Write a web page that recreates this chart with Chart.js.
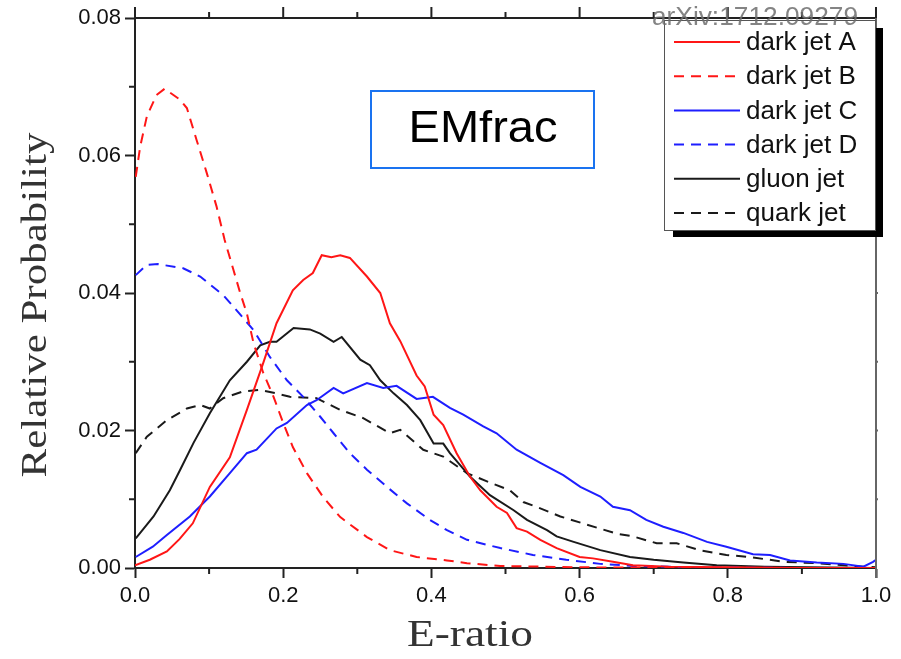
<!DOCTYPE html>
<html>
<head>
<meta charset="utf-8">
<script src="https://cdn.jsdelivr.net/npm/chart.js@4"></script>
<style>
  html, body { margin: 0; padding: 0; background: #fff; }
  #wrap { width: 901px; height: 659px; }
</style>
</head>
<body>
<div id="wrap"><canvas id="chart" width="901" height="659"></canvas></div>
<script>
// values (E-ratio, relative probability)
const darkAX = [0, 0.02, 0.043, 0.06, 0.078, 0.101, 0.128, 0.151, 0.173, 0.191, 0.213, 0.227, 0.24, 0.252, 0.265, 0.277, 0.29, 0.313, 0.331, 0.344, 0.358, 0.38, 0.391, 0.403, 0.416, 0.434, 0.452, 0.466, 0.488, 0.502, 0.515, 0.529, 0.547, 0.569, 0.6, 0.618, 0.645, 0.672, 0.72, 0.8, 0.9, 1.0];
const darkAY = [0.0004, 0.0012, 0.0024, 0.0042, 0.0065, 0.0118, 0.0161, 0.023, 0.0298, 0.0356, 0.0404, 0.0419, 0.0429, 0.0455, 0.0452, 0.0455, 0.0451, 0.0424, 0.040, 0.0356, 0.033, 0.028, 0.0264, 0.0223, 0.0208, 0.0167, 0.0133, 0.0113, 0.0089, 0.008, 0.0058, 0.0053, 0.0041, 0.0029, 0.0016, 0.0014, 0.0009, 0.0004, 0.0002, 0.0001, 0, 0];

const darkBX = [0.001, 0.007, 0.016, 0.029, 0.04, 0.061, 0.07, 0.083, 0.097, 0.11, 0.121, 0.133, 0.142, 0.151, 0.16, 0.173, 0.187, 0.2, 0.213, 0.232, 0.254, 0.277, 0.313, 0.344, 0.38, 0.421, 0.448, 0.493, 0.6, 0.8, 1.0];
const darkBY = [0.0569, 0.0613, 0.0657, 0.0688, 0.0697, 0.0681, 0.0669, 0.0623, 0.0574, 0.0526, 0.0477, 0.0433, 0.040, 0.037, 0.0327, 0.0284, 0.0249, 0.0211, 0.0176, 0.0138, 0.0103, 0.0074, 0.0045, 0.0026, 0.0016, 0.0011, 0.0007, 0.0003, 0.0001, 0, 0];

const darkCX = [0.001, 0.024, 0.043, 0.074, 0.101, 0.128, 0.151, 0.164, 0.191, 0.205, 0.232, 0.245, 0.268, 0.281, 0.313, 0.335, 0.353, 0.38, 0.402, 0.425, 0.443, 0.47, 0.488, 0.515, 0.547, 0.578, 0.601, 0.628, 0.645, 0.668, 0.69, 0.713, 0.74, 0.772, 0.798, 0.834, 0.857, 0.884, 0.92, 0.956, 0.983, 0.996, 1.0];
const darkCY = [0.0016, 0.0031, 0.0048, 0.0075, 0.0104, 0.0138, 0.0167, 0.0172, 0.0203, 0.0211, 0.0237, 0.0244, 0.0262, 0.0254, 0.0269, 0.0262, 0.0265, 0.0246, 0.0249, 0.0233, 0.0223, 0.0206, 0.0196, 0.0172, 0.0153, 0.0135, 0.0118, 0.0104, 0.0089, 0.0084, 0.007, 0.006, 0.0051, 0.0038, 0.0031, 0.002, 0.0019, 0.0011, 0.0008, 0.0006, 0.0002, 0.0009, 0.0012];

const darkDX = [0.001, 0.016, 0.031, 0.065, 0.088, 0.105, 0.119, 0.133, 0.16, 0.182, 0.205, 0.227, 0.25, 0.268, 0.29, 0.313, 0.34, 0.367, 0.398, 0.421, 0.448, 0.493, 0.537, 0.582, 0.628, 0.672, 0.75, 0.9, 1.0];
const darkDY = [0.0426, 0.0441, 0.0442, 0.0436, 0.0424, 0.0409, 0.0397, 0.038, 0.0346, 0.0307, 0.0273, 0.0249, 0.022, 0.0196, 0.0167, 0.0143, 0.0118, 0.0094, 0.007, 0.0055, 0.0041, 0.0029, 0.0019, 0.0012, 0.0006, 0.0003, 0.0001, 0, 0];

const gluonX = [0.001, 0.025, 0.047, 0.061, 0.079, 0.101, 0.128, 0.151, 0.169, 0.182, 0.191, 0.214, 0.236, 0.25, 0.268, 0.279, 0.304, 0.317, 0.331, 0.349, 0.367, 0.385, 0.403, 0.416, 0.425, 0.452, 0.479, 0.511, 0.529, 0.556, 0.569, 0.592, 0.628, 0.668, 0.7, 0.74, 0.785, 0.85, 1.0];
const gluonY = [0.0043, 0.0075, 0.0113, 0.0143, 0.0182, 0.0225, 0.0273, 0.030, 0.0324, 0.0329, 0.0329, 0.0349, 0.0347, 0.0341, 0.0329, 0.0336, 0.0303, 0.0295, 0.0273, 0.0254, 0.0237, 0.0215, 0.0181, 0.0181, 0.0167, 0.0133, 0.0106, 0.0084, 0.007, 0.0055, 0.0046, 0.0038, 0.0026, 0.0016, 0.0012, 0.0008, 0.0004, 0.0002, 0];

const quarkX = [0.001, 0.016, 0.043, 0.07, 0.088, 0.101, 0.119, 0.146, 0.169, 0.191, 0.209, 0.245, 0.277, 0.308, 0.344, 0.358, 0.389, 0.416, 0.448, 0.475, 0.506, 0.524, 0.542, 0.574, 0.61, 0.65, 0.672, 0.704, 0.731, 0.762, 0.798, 0.83, 0.875, 0.92, 0.983, 1.0];
const quarkY = [0.0167, 0.0191, 0.0215, 0.0232, 0.0237, 0.0232, 0.0247, 0.0257, 0.0259, 0.0254, 0.0249, 0.0247, 0.023, 0.0218, 0.0196, 0.0201, 0.0172, 0.0162, 0.0138, 0.0126, 0.0113, 0.0096, 0.0089, 0.0075, 0.0063, 0.005, 0.0046, 0.0036, 0.0036, 0.0026, 0.0019, 0.0016, 0.0009, 0.0007, 0.0002, 0.0001];

const seriesNames = ['dark jet A', 'dark jet B', 'dark jet C', 'dark jet D', 'gluon jet', 'quark jet'];
const xTicks = [0, 0.2, 0.4, 0.6, 0.8, 1.0];
const yTicks = [0, 0.02, 0.04, 0.06, 0.08];

const RED = 'rgb(255,22,22)';
const BLUE = 'rgb(30,30,255)';
const BLACK = '#1a1a1a';
const DASH = [10, 7];

const pts = (xs, ys) => xs.map((x, i) => ({ x, y: ys[i] }));

function makeSet(label, xs, ys, color, dashed) {
    return {
        label,
        data: pts(xs, ys),
        borderColor: color,
        borderWidth: 2,
        borderDash: dashed ? DASH : [],
        pointRadius: 0,
        tension: 0,
        fill: false
    };
}

// draw text squeezed/stretched to a given width (reference fonts are wider)
function stretchText(ctx, text, cx, cy, targetW) {
    const w = ctx.measureText(text).width;
    ctx.save();
    ctx.translate(cx, cy);
    ctx.scale(targetW / w, 1);
    ctx.textAlign = 'center';
    ctx.textBaseline = 'middle';
    ctx.fillText(text, 0, 0);
    ctx.restore();
}

const decorations = {
    id: 'decorations',
    afterDraw(chart) {
        const { ctx, chartArea: a, scales: { x, y } } = chart;
        ctx.save();

        // minor ticks on bottom/left, all ticks on top, small ones on the right
        ctx.strokeStyle = '#222';
        ctx.lineWidth = 2;
        for (let i = 0; i <= 10; i++) {
            const px = x.getPixelForValue(i / 10);
            const major = i % 2 === 0;
            ctx.beginPath();
            if (!major) { ctx.moveTo(px, a.bottom); ctx.lineTo(px, a.bottom + 6); }
            ctx.moveTo(px, a.top); ctx.lineTo(px, a.top - (major ? 11 : 6));
            ctx.stroke();
        }
        for (let i = 1; i < 8; i += 2) {
            const py = y.getPixelForValue(i / 100);
            ctx.beginPath();
            ctx.moveTo(a.left, py); ctx.lineTo(a.left - 6, py);
            ctx.stroke();
        }
        ctx.beginPath();
        ctx.moveTo(a.left - 1, a.top); ctx.lineTo(a.right, a.top);
        ctx.stroke();
        ctx.strokeStyle = '#666';
        ctx.beginPath();
        ctx.moveTo(a.right, a.top); ctx.lineTo(a.right, a.bottom + 10);
        for (let i = 1; i < 8; i++) {
            const py = y.getPixelForValue(i / 100);
            ctx.moveTo(a.right, py); ctx.lineTo(a.right + 2, py);
        }
        ctx.stroke();

        // axis titles
        ctx.fillStyle = '#333';
        ctx.font = '36px "Liberation Serif", serif';
        ctx.save();
        ctx.translate(37, 305);
        ctx.rotate(-Math.PI / 2);
        stretchText(ctx, 'Relative Probability', 0, 0, 345);
        ctx.restore();
        ctx.font = '38px "Liberation Serif", serif';
        stretchText(ctx, 'E-ratio', 470, 636, 126);

        // EMfrac label box
        ctx.strokeStyle = '#1a73f0';
        ctx.lineWidth = 2;
        ctx.strokeRect(371, 91, 223, 77);
        ctx.fillStyle = '#000';
        ctx.font = '44px "Liberation Sans", Arial, sans-serif';
        stretchText(ctx, 'EMfrac', 483, 130, 149);

        // legend with drop shadow
        ctx.fillStyle = '#000';
        ctx.fillRect(673, 28, 210, 209);
        ctx.fillStyle = '#fff';
        ctx.fillRect(664, 20, 212, 211);
        ctx.strokeStyle = '#555';
        ctx.lineWidth = 1;
        ctx.strokeRect(664.5, 20.5, 211, 210);
        ctx.font = '26px "Liberation Sans", Arial, sans-serif';
        ctx.textAlign = 'left';
        ctx.textBaseline = 'middle';
        chart.data.datasets.forEach((ds, i) => {
            const ly = 42 + i * 34.2;
            ctx.strokeStyle = ds.borderColor;
            ctx.lineWidth = 2;
            ctx.setLineDash(ds.borderDash);
            ctx.beginPath();
            ctx.moveTo(674, ly); ctx.lineTo(740, ly);
            ctx.stroke();
            ctx.setLineDash([]);
            ctx.fillStyle = '#111';
            ctx.fillText(ds.label, 746, ly + 1);
        });

        // watermark
        ctx.fillStyle = 'rgba(110,110,110,0.85)';
        ctx.font = '25px "Liberation Sans", Arial, sans-serif';
        stretchText(ctx, 'arXiv:1712.09279', 755, 18, 206);

        ctx.restore();
    }
};

new Chart(document.getElementById('chart'), {
    type: 'line',
    data: {
        datasets: [
            makeSet(seriesNames[0], darkAX, darkAY, RED, false),
            makeSet(seriesNames[1], darkBX, darkBY, RED, true),
            makeSet(seriesNames[2], darkCX, darkCY, BLUE, false),
            makeSet(seriesNames[3], darkDX, darkDY, BLUE, true),
            makeSet(seriesNames[4], gluonX, gluonY, BLACK, false),
            makeSet(seriesNames[5], quarkX, quarkY, BLACK, true)
        ]
    },
    options: {
        responsive: false,
        animation: false,
        layout: { padding: { left: 0, right: 25, top: 18, bottom: 0 } },
        plugins: { legend: { display: false }, tooltip: { enabled: false } },
        scales: {
            x: {
                type: 'linear',
                min: 0,
                max: 1,
                afterBuildTicks: s => { s.ticks = xTicks.map(v => ({ value: v })); },
                afterFit: s => { s.height = 91; },
                grid: { drawOnChartArea: false, tickLength: 10, tickWidth: 2, color: '#222' },
                border: { color: '#222', width: 2 },
                ticks: {
                    color: '#111',
                    padding: 5,
                    font: { family: '"Liberation Sans", Arial, sans-serif', size: 22 },
                    callback: v => v.toFixed(1)
                }
            },
            y: {
                min: 0,
                max: 0.08,
                afterBuildTicks: s => { s.ticks = yTicks.map(v => ({ value: v })); },
                afterFit: s => { s.width = 135; },
                grid: { drawOnChartArea: false, tickLength: 10, tickWidth: 2, color: '#222' },
                border: { color: '#222', width: 2 },
                ticks: {
                    color: '#111',
                    padding: 4,
                    font: { family: '"Liberation Sans", Arial, sans-serif', size: 22 },
                    callback: v => v.toFixed(2)
                }
            }
        }
    },
    plugins: [decorations]
});
</script>
</body>
</html>
